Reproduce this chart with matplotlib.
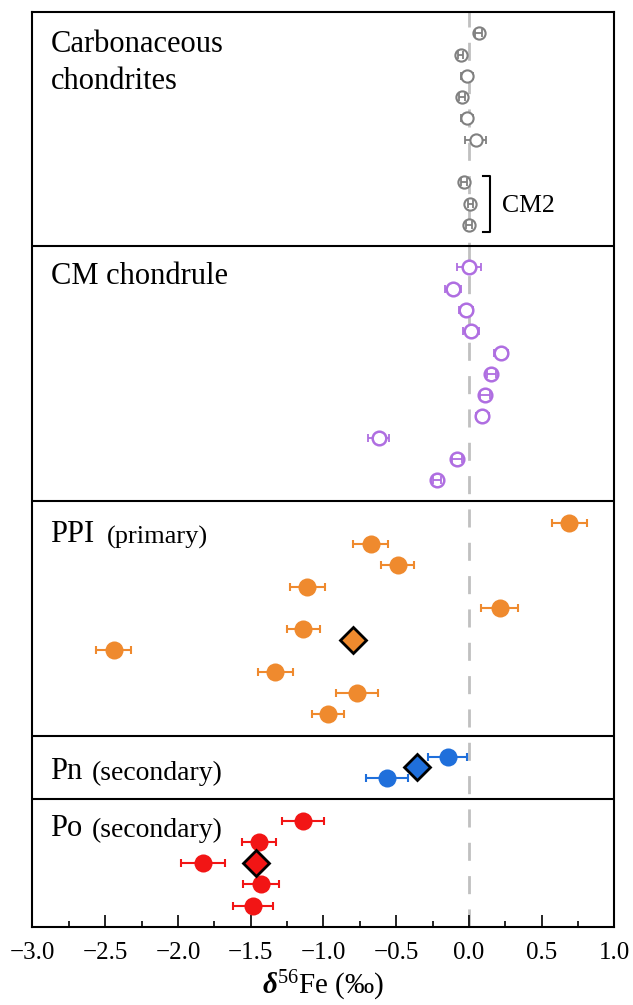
import numpy as np
import matplotlib
matplotlib.use('Agg')
import matplotlib.pyplot as plt
from matplotlib.ticker import MultipleLocator

plt.rcParams['font.family'] = ['Liberation Serif', 'DejaVu Serif']
plt.rcParams['mathtext.fontset'] = 'custom'
plt.rcParams['mathtext.rm'] = 'Liberation Serif'
plt.rcParams['mathtext.it'] = 'Liberation Serif:italic'
plt.rcParams['mathtext.bf'] = 'Liberation Serif:bold:italic'

## Data (delta56Fe in permil, 2SE), one row per analysis
cc_row = [0, 1, 2, 3, 4, 5, 7, 8, 9]
cc_d56 = [0.067, -0.058, -0.012, -0.047, -0.012, 0.045, -0.036, 0.010, 0.003]
cc_err = [0.025, 0.020, 0.042, 0.020, 0.042, 0.070, 0.020, 0.018, 0.020]

chd_row = [11, 12, 13, 14, 15, 16, 17, 18, 19, 20, 21]
chd_d56 = [0.0, -0.109, -0.019, 0.017, 0.221, 0.153, 0.113, 0.091, -0.620, -0.081, -0.219]
chd_err = [0.080, 0.055, 0.050, 0.055, 0.046, 0.030, 0.035, 0.046, 0.072, 0.035, 0.025]

ppi_row = [23, 24, 25, 26, 27, 28, 29, 30, 31, 32]
ppi_d56 = [0.69, -0.675, -0.49, -1.11, 0.21, -1.14, -2.44, -1.33, -0.77, -0.97]
ppi_err = [0.122, 0.122, 0.114, 0.122, 0.129, 0.114, 0.120, 0.120, 0.143, 0.110]
ppi_mean_row, ppi_mean = 28.5, -0.80

pn_row = [34, 35]
pn_d56 = [-0.147, -0.564]
pn_err = [0.133, 0.146]
pn_mean_row, pn_mean = 34.5, -0.356

po_row = [37, 38, 39, 40, 41]
po_d56 = [-1.142, -1.442, -1.83, -1.43, -1.483]
po_err = [0.144, 0.118, 0.151, 0.125, 0.136]
po_mean_row, po_mean = 39, -1.467

panel_edges = [10, 22, 33, 36]

gray = '#808080'
purple = '#AF6EE1'
orange = '#EF8A2E'
blue = '#1F6FDB'
red = '#F21515'

fig = plt.figure(figsize=(6.33, 10.05), dpi=100)
ax = fig.add_axes([0.0513, 0.0776, 0.9194, 0.9104])

ax.axvline(0, color='#C0C0C0', lw=2, dashes=(6.5, 5.5), zorder=1)
for e in panel_edges:
    ax.axhline(e, color='black', lw=1.5, zorder=2)


def open_points(x, y, err, color, ms, mew, inner):
    x, y, err = np.array(x), np.array(y), np.array(err)
    small = err < inner
    ax.errorbar(x[~small], y[~small], xerr=err[~small], fmt='none', ecolor=color,
                elinewidth=1.3, capsize=2.8, capthick=1.3, zorder=2.5)
    ax.plot(x, y, 'o', mfc='white', mec=color, ms=ms, mew=mew, zorder=3)
    ax.errorbar(x[small], y[small], xerr=err[small], fmt='none', ecolor=color,
                elinewidth=1.3, capsize=2.8, capthick=1.3, zorder=4)


def filled_points(x, y, err, color):
    ax.errorbar(x, y, xerr=err, fmt='none', ecolor=color, elinewidth=1.5,
                capsize=2.8, capthick=1.5, zorder=2.5)
    ax.plot(x, y, 'o', color=color, ms=13, mew=0, zorder=3)


def mean_point(x, y, color):
    ax.plot([x], [y], 'D', mfc=color, mec='black', ms=13.5, mew=2, zorder=5)


open_points(cc_d56, cc_row, cc_err, gray, 8.8, 1.5, 0.035)
open_points(chd_d56, chd_row, chd_err, purple, 9.8, 1.8, 0.04)
filled_points(ppi_d56, ppi_row, ppi_err, orange)
mean_point(ppi_mean, ppi_mean_row, orange)
filled_points(pn_d56, pn_row, pn_err, blue)
mean_point(pn_mean, pn_mean_row, blue)
filled_points(po_d56, po_row, po_err, red)
mean_point(po_mean, po_mean_row, red)

# CM2 bracket
ax.plot([0.098, 0.148, 0.148, 0.098], [6.7, 6.7, 9.35, 9.35], color='black', lw=1.5, zorder=2)
ax.text(0.228, 8.1, 'CM2', fontsize=18.5, va='center', ha='left')

# Panel labels
tr = ax.get_yaxis_transform()
lx = 0.031
ax.text(lx, 0.89, 'Carbonaceous', transform=tr, fontsize=22, va='baseline')
ax.text(lx, 2.61, 'chondrites', transform=tr, fontsize=22, va='baseline')
ax.text(lx, 11.78, 'CM chondrule', transform=tr, fontsize=22, va='baseline')
for main, sub, yb, gap, fs in [('PPI', '(primary)', 23.89, 8.5, 19),
                               ('Pn', '(secondary)', 35.04, 6.5, 20),
                               ('Po', '(secondary)', 37.72, 6.5, 20)]:
    t = ax.text(lx, yb, main, transform=tr, fontsize=22, va='baseline')
    ax.annotate(sub, xy=(1, 0), xycoords=t, xytext=(gap, 0), textcoords='offset points',
                fontsize=fs, va='bottom', ha='left')

ax.set_xlim(-3, 1)
ax.set_ylim(42, -1)
ax.xaxis.set_major_locator(MultipleLocator(0.5))
ax.xaxis.set_minor_locator(MultipleLocator(0.25))
ax.tick_params(axis='x', which='major', direction='in', length=8.8, width=1.2,
               labelsize=18, pad=11)
ax.tick_params(axis='x', which='minor', direction='in', length=4.2, width=1.2)
ax.tick_params(axis='y', left=False, labelleft=False)
for s in ax.spines.values():
    s.set_linewidth(1.5)

ax.set_xlabel(r'$\mathbf{\delta}^{\mathrm{56}}$Fe (‰)', fontsize=21, labelpad=3)

fig.savefig('out.png', dpi=100)
